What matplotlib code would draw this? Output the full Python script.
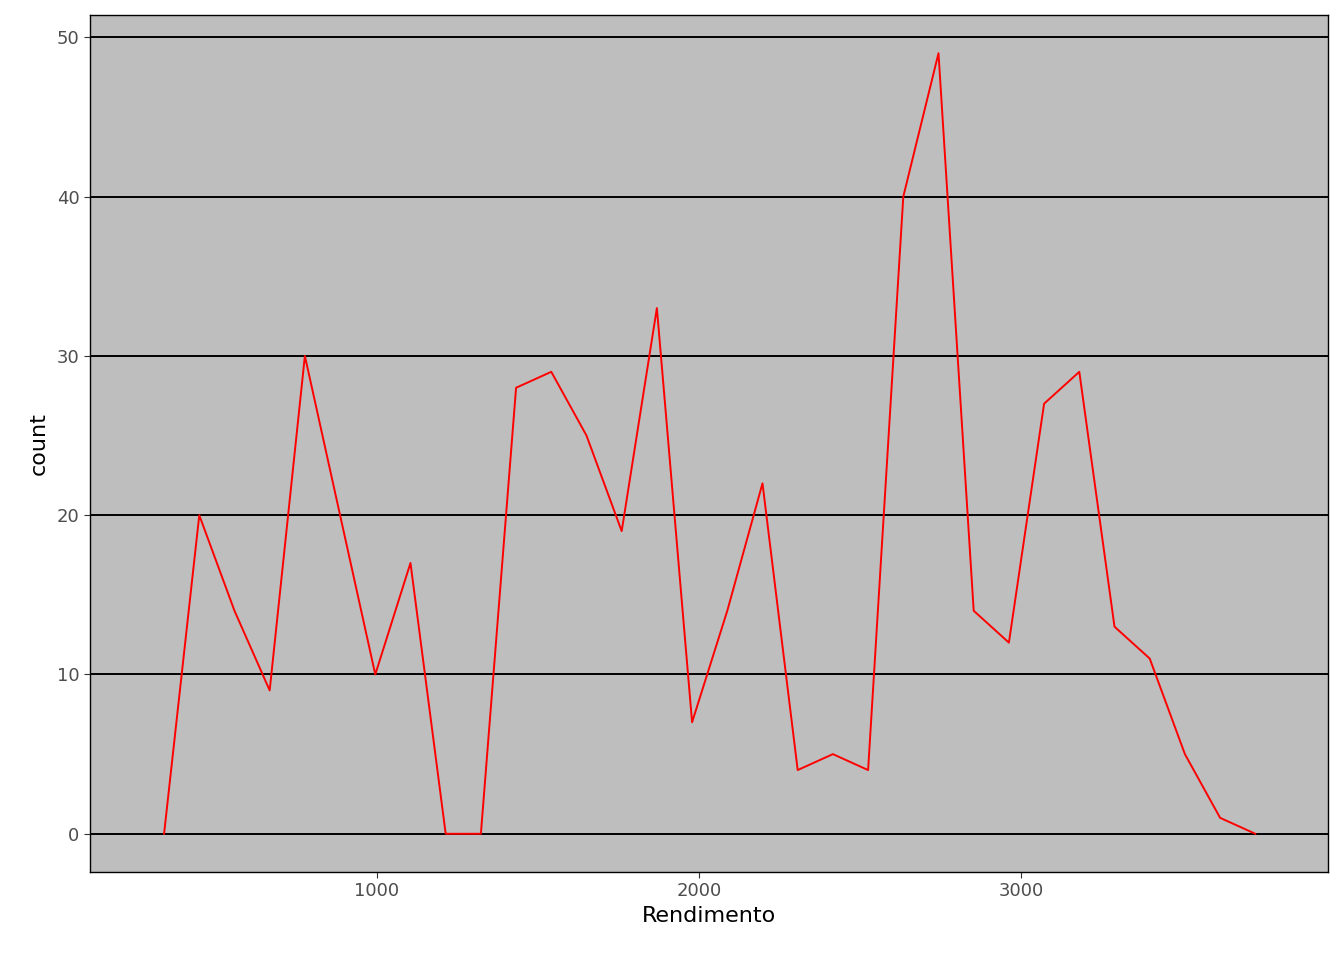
import matplotlib
matplotlib.use("Agg")
import matplotlib.pyplot as plt

x_start = 339.0
bin_width = 109.3
counts = [0,20,14,9,30,20,10,17,0,0,28,29,25,19,33,7,14,22,4,5,4,40,49,14,12,27,29,13,11,5,1,0]
xs = [x_start + bin_width*i for i in range(len(counts))]

fig = plt.figure(figsize=(13.44, 9.6), dpi=100)
ax = fig.add_axes([90/1344, 1-872/960, (1328-90)/1344, (872-15)/960])
ax.set_facecolor("#bebebe")
for y in [0,10,20,30,40,50]:
    ax.axhline(y, color="black", lw=1.4, zorder=1)
ax.plot(xs, counts, color="red", lw=1.4, zorder=2)
ax.set_xlim(109, 3953)
ax.set_ylim(-2.4, 51.4)
ax.set_xticks([1000,2000,3000])
ax.set_yticks([0,10,20,30,40,50])
for s in ax.spines.values():
    s.set_color("black"); s.set_linewidth(1.0)
ax.tick_params(colors="#4d4d4d", labelsize=13, length=4)
ax.tick_params(axis="both", color="#333333")
ax.set_xlabel("Rendimento", fontsize=16, labelpad=4)
ax.set_ylabel("count", fontsize=16, labelpad=6)
fig.savefig("out.png", dpi=100, facecolor="white")
